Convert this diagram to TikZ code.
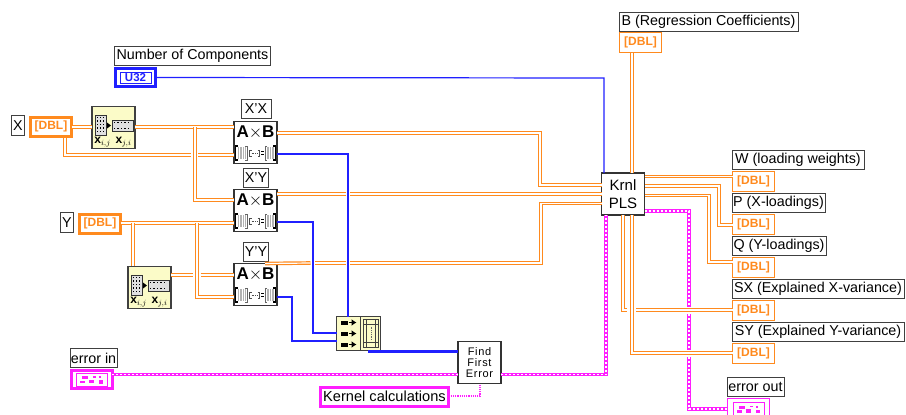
\documentclass[tikz,border=0pt]{standalone}
\usepackage{fontspec}
\setmainfont{Liberation Sans}
\newfontfamily\ffefont[LetterSpace=6]{Liberation Sans}
\usepackage{xcolor}
\usetikzlibrary{arrows.meta,positioning,calc}
\definecolor{wireorange}{HTML}{FF8A1E}
\definecolor{wireblue}{HTML}{2020FF}
\definecolor{wirepink}{HTML}{FF1EFF}
\definecolor{iconyellow}{HTML}{FBFBC8}
\tikzset{
  lbl/.style={draw=black!75, fill=white, line width=1pt, anchor=north west, inner sep=0pt, outer sep=0pt, minimum height=19pt, font=\fontsize{14.3}{14.3}\selectfont},
  dblin/.style={draw=wireorange, fill=white, line width=3pt, anchor=north west, inner sep=0pt, outer sep=0pt, minimum width=41pt, minimum height=18.5pt, text=wireorange, font=\bfseries\fontsize{12}{12}\selectfont},
  dblout/.style={draw=wireorange, fill=white, line width=1.4pt, anchor=north west, inner sep=0pt, outer sep=0pt, minimum width=42pt, minimum height=20pt, text=wireorange, font=\bfseries\fontsize{12}{12}\selectfont},
  matbox/.style={draw=black!80, fill=white, line width=1.2pt, anchor=north west, inner sep=0pt, outer sep=0pt, minimum width=43pt, minimum height=42pt},
  iconbox/.style={draw=black!75, fill=iconyellow, line width=1.2pt, anchor=north west, inner sep=0pt, outer sep=0pt, minimum width=43pt, minimum height=42pt},
  dblwire/.style={draw=wireorange, line width=1.2pt, double=white, double distance=1.2pt},
  bluewire/.style={draw=wireblue, line width=1.2pt},
  thickblue/.style={draw=wireblue, line width=3pt},
  pinkwire/.style={draw=wirepink, line width=3.4pt, postaction={draw=white, line width=1.1pt, dash pattern=on 2pt off 2pt}},
  thinpink/.style={draw=wirepink, line width=1.2pt, densely dotted},
  mulglyph/.pic={
    \fill[black!30] (-18,-6) rectangle (-10,6);
    \fill[black!30] (10,-6) rectangle (18,6);
    \draw[white, line width=0.5pt, xstep=2.7, ystep=2.7] (-18,-6) grid (-10,6);
    \draw[white, line width=0.5pt, xstep=2.7, ystep=2.7] (10,-6) grid (18,6);
    \draw[black, line width=1.5pt] (-17.5,-7) -- (-20,-7) -- (-20,7) -- (-17.5,7);
    \draw[black!60, line width=0.7pt] (-10.5,-7) -- (-8.5,-7) -- (-8.5,7) -- (-10.5,7);
    \draw[black!60, line width=0.7pt] (11.5,-7) -- (9.5,-7) -- (9.5,7) -- (11.5,7);
    \draw[black, line width=1.5pt] (17.5,-7) -- (20,-7) -- (20,7) -- (17.5,7);
    \draw[black!70, line width=0.7pt] (-4,-3) -- (-6,-3) -- (-6,3) -- (-4,3);
    \draw[black!70, line width=0.7pt] (2,-3) -- (4,-3) -- (4,3) -- (2,3);
    \draw[black!70, line width=0.8pt, densely dotted] (-4,0) -- (2,0);
    \draw[black, line width=0.7pt] (5.5,-1.2) -- (8,-1.2);
    \draw[black, line width=0.7pt] (5.5,1.2) -- (8,1.2);
  },
  reshglyph/.pic={
    \draw[black!80, fill=black!12, line width=0.9pt] (-18.5,-12.5) rectangle (-7.5,7.5);
    \draw[black!80, fill=black!12, line width=0.9pt] (-1.5,-7.5) rectangle (19.5,3.5);
    \foreach \cx in {-16,-13,-10} \foreach \cy in {-10,-6.5,-3,0.5,4} \fill[black] (\cx-0.8,\cy-0.8) rectangle (\cx+0.8,\cy+0.8);
    \foreach \cx in {1,4.5,8,11.5,15} \foreach \cy in {-5,1} \fill[black] (\cx-0.8,\cy-0.8) rectangle (\cx+0.8,\cy+0.8);
    \fill[black] (-6.5,-5) -- (-2.5,-2) -- (-6.5,1) -- cycle;
    \node[inner sep=0pt, font=\fontsize{12}{12}\selectfont] (-ij) at (-11,15) {$\mathbf{x}_{i,j}$};
    \node[inner sep=0pt, font=\fontsize{12}{12}\selectfont] (-ji) at (10,15) {$\mathbf{x}_{j,i}$};
  },
  joinglyph/.pic={
    \draw[black!75, line width=1.2pt] (2,-17) -- (2,17);
    \foreach \cy in {-11,0,11} {
      \fill[black] (-18,\cy-2) rectangle (-11,\cy+2);
      \draw[black, line width=1.5pt, -{Latex[length=5pt,width=7pt]}] (-10,\cy) -- (-2,\cy);
    }
    \draw[black!75, fill=iconyellow, line width=0.8pt] (5,-14) rectangle (20,14);
    \draw[black!75, line width=0.8pt] (8,-14) rectangle (17,14);
    \draw[black!75, line width=0.8pt] (5,-9) -- (20,-9);
    \draw[black!75, line width=0.8pt] (5,9) -- (20,9);
    \draw[black!60, line width=0.8pt, densely dotted] (12.5,-7) -- (12.5,7);
  },
  errglyph/.pic={
    \draw[wirepink, line width=0.9pt] (-15.5,-6.5) rectangle (15.5,6.5);
    \fill[wirepink] (-10,-3.5) rectangle (-4,-0.5);
    \fill[wirepink] (1,-3.5) rectangle (4,-2);
    \fill[wirepink] (7,-3.5) rectangle (9,-1.5);
    \fill[wirepink] (-12,1) rectangle (-7,3.5);
    \fill[wirepink] (-3,0) rectangle (2,3.5);
    \fill[wirepink] (7,0.5) rectangle (11,4);
  }
}
\begin{document}
\begin{tikzpicture}[x=1pt,y=-1pt]
\useasboundingbox (0,0) rectangle (906,415);
% controls (left)
\node[lbl, minimum width=156pt] (ncomp) at (114.5,46.5) {Number of Components};
\node[draw=wireblue, fill=white, line width=3pt, anchor=north west, inner sep=0pt, outer sep=0pt, minimum width=40pt, minimum height=18pt] (u32) at (115.5,68.5) {};
\node[draw=wireblue, line width=0.9pt, inner sep=0pt, minimum width=31pt, minimum height=11pt, text=wireblue, font=\bfseries\fontsize{11.5}{11.5}\selectfont] (u32txt) at (u32) {U32};
\node[lbl, minimum width=13pt, minimum height=20pt] (xlbl) at (11.5,115.5) {X};
\node[dblin] (dblx) at (30.5,117.5) {[DBL]};
\node[lbl, minimum width=13pt, minimum height=20pt] (ylbl) at (60.5,212.5) {Y};
\node[dblin] (dbly) at (79.5,214.5) {[DBL]};
\node[lbl, minimum width=47pt] (errin) at (70,348.5) {error in};
\node[draw=wirepink, fill=white, line width=3pt, anchor=north west, inner sep=0pt, outer sep=0pt, minimum width=41pt, minimum height=18pt] (errint) at (71,370.5) {};
\pic at (errint) {errglyph};
\node[draw=wirepink, fill=white, line width=3pt, anchor=north west, inner sep=0pt, outer sep=0pt, minimum width=128pt, minimum height=18.5pt, font=\fontsize{14.6}{14.6}\selectfont] (kernel) at (320.5,387.5) {Kernel calculations};
% transpose icons
\node[iconbox] (reshx) at (92,106.5) {};
\pic (rx) at (reshx) {reshglyph};
\node[iconbox] (reshy) at (128,266.5) {};
\pic (ry) at (reshy) {reshglyph};
% matrix products
\node[lbl, minimum width=30pt] (xxl) at (241,99.5) {X'X};
\node[matbox] (axba) at (234,121.5) {};
\node[inner sep=0pt, font=\bfseries\fontsize{17}{17}\selectfont] (axbat) at (255.5,132) {A$\times$B};
\pic at (255.5,153) {mulglyph};
\node[lbl, minimum width=25pt] (xyl) at (243.5,168.5) {X'Y};
\node[matbox] (axbb) at (234,189.5) {};
\node[inner sep=0pt, font=\bfseries\fontsize{17}{17}\selectfont] (axbbt) at (255.5,200) {A$\times$B};
\pic at (255.5,221) {mulglyph};
\node[lbl, minimum width=25pt] (yyl) at (243.5,242) {Y'Y};
\node[matbox] (axbc) at (234,263.5) {};
\node[inner sep=0pt, font=\bfseries\fontsize{17}{17}\selectfont] (axbct) at (255.5,274) {A$\times$B};
\pic at (255.5,295) {mulglyph};
% join + error check
\node[iconbox, minimum width=44pt, minimum height=34pt] (joiner) at (336.5,316.5) {};
\pic at (joiner) {joinglyph};
\node[matbox] (ffe) at (458,341.5) {};
\node[inner sep=0pt, align=center, font=\ffefont\fontsize{11}{11}\selectfont] (ffetxt) at (ffe) {Find\\First\\Error};
% Krnl PLS + outputs (right)
\node[matbox, align=center, font=\fontsize{15}{18.5}\selectfont] (krnl) at (601.5,173) {Krnl\\PLS};
\node[lbl, minimum width=179pt] (bl) at (619,12.5) {B (Regression Coefficients)};
\node[dblout] (dblb) at (619.5,32.5) {[DBL]};
\node[lbl, minimum width=132pt] (wl) at (732,150.5) {W (loading weights)};
\node[dblout] (dblw) at (732.5,171.5) {[DBL]};
\node[lbl, minimum width=93pt] (pl) at (732,193.5) {P (X-loadings)};
\node[dblout] (dblp) at (732.5,214.5) {[DBL]};
\node[lbl, minimum width=94pt] (ql) at (732,236.5) {Q (Y-loadings)};
\node[dblout] (dblq) at (732.5,257.5) {[DBL]};
\node[lbl, minimum width=172pt] (sxl) at (732,279.5) {SX (Explained X-variance)};
\node[dblout] (dblsx) at (732.5,300.5) {[DBL]};
\node[lbl, minimum width=172pt] (syl) at (732,322.5) {SY (Explained Y-variance)};
\node[dblout] (dblsy) at (732.5,343.5) {[DBL]};
\node[lbl, minimum width=57pt] (errol) at (727,377.5) {error out};
\node[draw=wirepink, fill=white, line width=1.2pt, anchor=north west, inner sep=0pt, outer sep=0pt, minimum width=42pt, minimum height=21pt] (errout) at (727.5,398.5) {};
\pic at (errout) {errglyph};
% gaps where a wire passes under another
\coordinate (gxa) at (190.5,155);
\coordinate (gxb) at (198,155);
\coordinate (gya) at (193,275);
\coordinate (gyb) at (200.5,275);
\coordinate (gca) at (310.5,263);
\coordinate (gcb) at (315,263);
\coordinate (gcc) at (346,263);
\coordinate (gcd) at (350,263);
\coordinate (gba) at (346,194);
\coordinate (gbb) at (350,194);
\coordinate (gsa) at (627,310);
\coordinate (gsb) at (636,310);
\coordinate (gpa) at (689,307);
\coordinate (gpb) at (689,314);
\coordinate (gpc) at (689,350);
\coordinate (gpd) at (689,357);
% orange wires, inputs
\draw[dblwire] (dblx.east |- 0,127) -- (reshx.west |- 0,127);
\draw[dblwire] (reshx.east |- 0,127) -- (axba.west |- 0,127);
\draw[dblwire] (195,127) -- (195,200) -- (axbb.west |- 0,200);
\draw[dblwire] (65,137.5) -- (65,155) -- (gxa);
\draw[dblwire] (gxb) -- (axba.west |- gxb);
\draw[dblwire] (dbly.east |- 0,223) -- (axbb.west |- 0,223);
\draw[dblwire] (133,223) -- (133,266);
\draw[dblwire] (reshy.east |- gya) -- (gya);
\draw[dblwire] (gyb) -- (axbc.west |- gyb);
\draw[dblwire] (197,223) -- (197,297) -- (axbc.west |- 0,297);
% orange wires to Krnl PLS
\draw[dblwire] (axba.east |- 0,133) -- (540,133) -- (540,185) -- (krnl.west |- 0,185);
\draw[dblwire] (axbb.east |- gba) -- (gba);
\draw[dblwire] (gbb) -- (krnl.west |- gbb);
\draw[dblwire] ([xshift=-12pt]axbc.north east) -- (gca);
\draw[dblwire] (gcb) -- (gcc);
\draw[dblwire] (gcd) -- (541,263) -- (541,203.5) -- (krnl.west |- 0,203.5);
% orange wires out of Krnl PLS
\draw[dblwire] (dblb.south -| 632,0) -- (krnl.north -| 632,0);
\draw[dblwire] (krnl.east |- 0,176.5) -- (dblw.west |- 0,176.5);
\draw[dblwire] (krnl.east |- 0,186) -- (719,186) -- (719,225) -- (dblp.west |- 0,225);
\draw[dblwire] (krnl.east |- 0,195.5) -- (709,195.5) -- (709,262) -- (dblq.west |- 0,262);
\draw[dblwire] (krnl.south -| 623,0) -- (623,310) -- (gsa);
\draw[dblwire] (gsb) -- (dblsx.west |- gsb);
\draw[dblwire] (krnl.south -| 632,0) -- (632,353) -- (dblsy.west |- 0,353);
% blue wires
\draw[bluewire] (u32.east) -- (604,78) -- (krnl.north -| 604,0);
\draw[bluewire] (axba.east |- 0,154) -- (348,154) -- (joiner.north -| 348,0);
\draw[bluewire] (axbb.east |- 0,222) -- (313,222) -- (313,333) -- (joiner.west |- 0,333);
\draw[bluewire] (axbc.east |- 0,297) -- (292,297) -- (292,341) -- (joiner.west |- 0,341);
\draw[thickblue] (368,351.5) -- (ffe.west |- 0,351.5);
% error wires
\draw[pinkwire] (errint.east |- 0,374.5) -- (ffe.west |- 0,374.5);
\draw[pinkwire] (ffe.east |- 0,374.5) -- (606,374.5) -- (krnl.south -| 606,0);
\draw[pinkwire] (krnl.east |- 0,211) -- (689,211) -- (gpa);
\draw[pinkwire] (gpb) -- (gpc);
\draw[pinkwire] (gpd) -- (689,409) -- (errout.west |- 0,409);
\draw[thinpink] (kernel.east |- 0,396) -- (480,396) -- (ffe.south -| 480,0);
\end{tikzpicture}
\end{document}
